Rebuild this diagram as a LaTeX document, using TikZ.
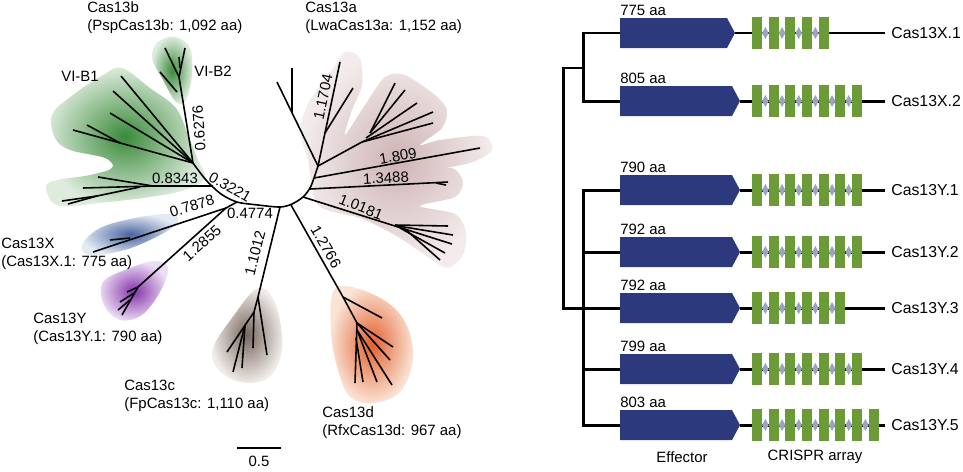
\documentclass[tikz,border=0pt]{standalone}
\usepackage{fontspec}
\setmainfont{Liberation Sans}
\usepackage{tikz}

\definecolor{effblue}{RGB}{44,58,125}
\definecolor{crgreen}{RGB}{107,155,55}
\definecolor{spgrey}{RGB}{155,163,189}
\definecolor{bIn}{RGB}{58,138,58}
\definecolor{bOut}{RGB}{222,236,222}
\definecolor{aIn}{RGB}{206,180,180}
\definecolor{aOut}{RGB}{244,236,236}
\definecolor{xIn}{RGB}{70,100,160}
\definecolor{xOut}{RGB}{228,234,244}
\definecolor{yIn}{RGB}{132,50,170}
\definecolor{yOut}{RGB}{236,222,244}
\definecolor{cIn}{RGB}{118,104,94}
\definecolor{cOut}{RGB}{240,236,232}
\definecolor{dIn}{RGB}{226,96,44}
\definecolor{dOut}{RGB}{250,228,214}

\begin{document}
\begin{tikzpicture}[x=0.02cm,y=-0.02cm,font=\fontsize{8.5}{10.2}\selectfont,
	br/.style={line width=0.9pt,line join=round},
	locus/.style={line width=1.7pt},
	lab/.style={inner sep=0pt}]
		\useasboundingbox (0,0) rectangle (963,471);

		% Clade shadings
		\shade[inner color=bIn,outer color=bOut] plot[smooth cycle,tension=0.6] coordinates {(52,115) (70,97) (103,75) (122,68) (150,88) (176,108) (188,135) (198,160) (205,178) (185,190) (150,197) (100,203) (60,206) (48,195) (50,182) (90,175) (112,168) (105,158) (70,150) (55,138)};
		\shade[inner color=bIn,outer color=bOut] plot[smooth cycle,tension=0.6] coordinates {(152,58) (158,42) (175,37) (190,48) (192,75) (186,100) (176,102) (163,80)};
		\shade[inner color=aIn,outer color=aOut] plot[smooth cycle,tension=0.5] coordinates {(318,205) (360,218) (395,235) (425,255) (447,268) (463,255) (466,232) (455,214) (420,206) (455,197) (463,182) (452,168) (420,172) (470,163) (492,150) (483,136) (440,140) (420,145) (442,128) (447,110) (435,95) (405,75) (385,77) (365,105) (345,135) (352,110) (362,85) (360,58) (345,52) (332,70) (310,100) (300,130) (308,160)};
		\shade[inner color=xIn,outer color=xOut] plot[smooth cycle,tension=0.6] coordinates {(82,245) (100,228) (135,218) (170,214) (178,222) (160,235) (125,250) (90,255)};
		\shade[inner color=yIn,outer color=yOut] plot[smooth cycle,tension=0.6] coordinates {(103,282) (130,268) (155,261) (168,268) (160,292) (142,315) (120,320) (104,305)};
		\shade[inner color=cIn,outer color=cOut] plot[smooth cycle,tension=0.6] coordinates {(213,348) (232,318) (258,288) (276,305) (282,350) (268,378) (240,382) (217,368)};
		\shade[inner color=dIn,outer color=dOut] plot[smooth cycle,tension=0.6] coordinates {(333,292) (352,287) (387,302) (407,326) (413,360) (400,392) (373,403) (350,397) (338,370) (331,333)};

		% Backbone
		\draw[br] plot[smooth] coordinates {(193,163) (206,180) (221,194) (237,202) (258,205) (280,207) (292,204) (303,197) (310,188) (314,178) (318,166)};

		% Cas13b
		\draw[br] (193,163) -- (179,77) -- (165,48);
		\draw[br] (179,77) -- (185,48);
		\draw[br] (180,68) -- (179,57);
		\draw[br] (177,92) -- (160,72);
		\draw[br] (193,163) -- (121,76);
		\draw[br] (193,163) -- (113,91);
		\draw[br] (193,163) -- (110,113);
		\draw[br] (193,163) -- (73,130);
		\draw[br] (120,143) -- (87,125);
		\draw[br] (213,186) -- (153,186) -- (83,188);
		\draw[br] (153,186) -- (98,177);
		\draw[br] (140,187) -- (97,196) -- (62,201);
		\draw[br] (97,196) -- (68,204);

		% Cas13X and Cas13Y
		\draw[br] (237,202) -- (226,208) -- (93,252);
		\draw[br] (130,238) -- (110,240);
		\draw[br] (226,208) -- (138,287) -- (122,315);
		\draw[br] (138,287) -- (127,292);
		\draw[br] (134,293) -- (120,302);
		\draw[br] (130,300) -- (118,310);

		% Cas13c
		\draw[br] (280,207) -- (258,297) -- (267,355);
		\draw[br] (258,297) -- (254,312) -- (253,348);
		\draw[br] (254,312) -- (227,352);
		\draw[br] (245,325) -- (233,372);
		\draw[br] (245,325) -- (242,368);

		% Cas13d
		\draw[br] (291,205) -- (343,297) -- (382,318);
		\draw[br] (343,297) -- (357,323) -- (393,347);
		\draw[br] (357,323) -- (355,383);
		\draw[br] (357,323) -- (390,360);
		\draw[br] (357,330) -- (392,385);
		\draw[br] (357,330) -- (377,382);
		\draw[br] (356,338) -- (363,382);

		% Cas13a
		\draw[br] (303,197) -- (452,244);
		\draw[br] (395,225) -- (448,226);
		\draw[br] (398,226) -- (453,235);
		\draw[br] (400,228) -- (445,253);
		\draw[br] (405,229) -- (440,260);
		\draw[br] (310,189) -- (448,182);
		\draw[br] (436,183) -- (446,185);
		\draw[br] (314,178) -- (480,148);
		\draw[br] (318,166) -- (362,142) -- (433,123);
		\draw[br] (362,142) -- (433,112);
		\draw[br] (366,138) -- (417,103);
		\draw[br] (370,133) -- (405,90);
		\draw[br] (370,133) -- (395,83);
		\draw[br] (318,166) -- (340,62);
		\draw[br] (325,133) -- (353,88);
		\draw[br] (318,166) -- (277,82);
		\draw[br] (292,112) -- (292,68);

		% Branch lengths
		\node[lab,rotate=94] (l6276) at (199,128) {0.6276};
		\node[lab] (l8343) at (175,178) {0.8343};
		\node[lab,rotate=-30] (l3221) at (230,187) {0.3221};
		\node[lab,rotate=17] (l7878) at (192,206) {0.7878};
		\node[lab] (l4774) at (250,213) {0.4774};
		\node[lab,rotate=42] (l2855) at (202,243) {1.2855};
		\node[lab,rotate=76] (l1012) at (255,253) {1.1012};
		\node[lab,rotate=-60] (l2766) at (326,247) {1.2766};
		\node[lab,rotate=-22] (l0181) at (361,207) {1.0181};
		\node[lab,rotate=3] (l3488) at (386,178) {1.3488};
		\node[lab,rotate=10] (l809) at (398,156) {1.809};
		\node[lab,rotate=78] (l1704) at (323,97) {1.1704};

		% Clade names
		\node[lab,anchor=west,align=left] (cas13b) at (87,18) {Cas13b\\(PspCas13b: 1,092 aa)};
		\node[lab,anchor=west,align=left] (cas13a) at (305,18) {Cas13a\\(LwaCas13a: 1,152 aa)};
		\node[lab] (vib1) at (80,76) {VI-B1};
		\node[lab] (vib2) at (213,71) {VI-B2};
		\node[lab,anchor=west,align=left] (cas13x) at (1,254) {Cas13X\\(Cas13X.1: 775 aa)};
		\node[lab,anchor=west,align=left] (cas13y) at (33,329) {Cas13Y\\(Cas13Y.1: 790 aa)};
		\node[lab,anchor=west,align=left] (cas13c) at (124,396) {Cas13c\\(FpCas13c: 1,110 aa)};
		\node[lab,anchor=west,align=left] (cas13d) at (322,423) {Cas13d\\(RfxCas13d: 967 aa)};

		% Scale bar
		\coordinate (sbl) at (237,448);
		\coordinate (sbr) at (281,448);
		\draw[line width=0.6pt] (sbl) -- (sbr);
		\node[lab] (sb) at (259,461) {0.5};

		% Loci
		\foreach \y/\tip/\n/\len/\lbl [count=\i] in
			{33/735/5/775/Cas13X.1, 101/740/7/805/Cas13X.2, 190/740/7/790/Cas13Y.1,
			 252/740/7/792/Cas13Y.2, 308/740/6/792/Cas13Y.3, 369/740/7/799/Cas13Y.4,
			 425/740/8/803/Cas13Y.5}
		{
			\coordinate (row\i) at (620,\y);
			\draw[locus] (\tip,\y) -- (885,\y);
			\fill[effblue] (620,{\y-15}) -- ({\tip-8},{\y-15}) -- (\tip,\y) -- ({\tip-8},{\y+15}) -- (620,{\y+15}) -- cycle;
			\foreach \k in {1,...,\n}
				\fill[crgreen] ({752+(\k-1)*16.67},{\y-16}) rectangle ++(10,32);
			\foreach \k in {2,...,\n}
				\fill[spgrey] ({752+(\k-1)*16.67-6.6},\y) -- ++(3.3,-6) -- ++(3.3,6) -- ++(-3.3,6) -- cycle;
			\node[lab,anchor=west] (aa\i) at (620,{\y-23}) {\len{} aa};
			\node[lab,anchor=west,font=\fontsize{9}{11}\selectfont] (name\i) at (891,\y) {\lbl};
		}

		% Cladogram
		\draw[locus] (row1) -- ++(-37,0) |- (row2);
		\draw[locus] (row3) -- ++(-37,0) |- (row7);
		\foreach \j in {4,5,6}
			\draw[locus] (row\j) -- ++(-37,0);
		\draw[locus] (583,68) -- (563,68) |- (583,308);

		\node[lab] (effector) at (682,457) {Effector};
		\node[lab] (crispr) at (815,457) {CRISPR array};
	\end{tikzpicture}
\end{document}
